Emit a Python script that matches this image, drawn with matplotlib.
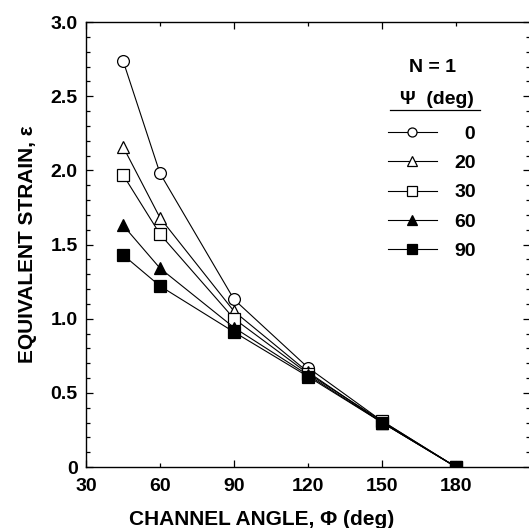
import numpy as np
import matplotlib
matplotlib.use('Agg')
import matplotlib.pyplot as plt
from matplotlib.lines import Line2D
from matplotlib.ticker import MultipleLocator

# channel angle (deg) and equivalent strain for each outer-corner angle psi
phi = [45, 60, 90, 120, 150, 180]
psi_labels = ['0', '20', '30', '60', '90']
strain_psi0 = [2.74, 1.98, 1.13, 0.67, 0.31, 0.0]
strain_psi20 = [2.16, 1.68, 1.05, 0.64, 0.30, 0.0]
strain_psi30 = [1.97, 1.57, 1.00, 0.63, 0.31, 0.0]
strain_psi60 = [1.63, 1.34, 0.94, 0.62, 0.30, 0.0]
strain_psi90 = [1.43, 1.22, 0.91, 0.61, 0.30, 0.0]

series = [strain_psi0, strain_psi20, strain_psi30, strain_psi60, strain_psi90]
markers = ['o', '^', 's', '^', 's']
fills = ['white', 'white', 'white', 'black', 'black']

plt.rcParams['font.family'] = ['Liberation Sans', 'DejaVu Sans']
plt.rcParams['font.weight'] = 'bold'
FS = 14

fig = plt.figure(figsize=(5.29, 5.28), dpi=100)
ax = fig.add_axes([86 / 529, 1 - 467 / 528, 444 / 529, 445 / 528])

handles = []
for vals, m, fc in zip(series, markers, fills):
    ax.plot(phi, vals, color='black', lw=0.8, marker=m, ms=8.5,
            mfc=fc, mec='black', mew=0.9, zorder=3)
    handles.append(Line2D([], [], color='black', lw=0.8, marker=m, ms=6.5,
                          mfc=fc, mec='black', mew=0.9))

ax.set_xlim(30, 210)
ax.set_ylim(0, 3.0)
ax.set_xticks([30, 90, 150])
ax.set_xticks([60, 120, 180], minor=True)
ax.set_xticklabels(['30', '90', '150'])
ax.set_xticklabels(['60', '120', '180'], minor=True)
ax.set_yticks([0, 0.5, 1.0, 1.5, 2.0, 2.5, 3.0])
ax.set_yticklabels(['0', '0.5', '1.0', '1.5', '2.0', '2.5', '3.0'])
ax.yaxis.set_minor_locator(MultipleLocator(0.1))
ax.tick_params(which='both', direction='in', top=True, right=True,
               labelsize=FS, width=0.9)
ax.tick_params(which='major', length=5)
ax.tick_params(which='minor', length=3)
ax.tick_params(axis='x', which='both', pad=8)
ax.tick_params(axis='y', which='both', pad=6)
for lab in ax.get_xticklabels(minor=True) + ax.get_xticklabels() + ax.get_yticklabels():
    lab.set_fontweight('bold')
for sp in ax.spines.values():
    sp.set_linewidth(1.0)

ax.set_xlabel('CHANNEL ANGLE, \u03a6 (deg)', fontsize=15, fontweight='bold', labelpad=6)
ax.xaxis.set_label_coords(0.395, -0.097)
ax.set_ylabel('EQUIVALENT STRAIN, \u03b5', fontsize=15, fontweight='bold', labelpad=10)

labels = ['\u2007' + l if len(l) == 1 else l for l in psi_labels]
leg = ax.legend(handles, labels, loc='upper left', bbox_to_anchor=(0.680, 0.768),
                frameon=False, fontsize=FS, handlelength=2.5, handletextpad=0.9,
                labelspacing=0.6, borderpad=0, borderaxespad=0)
for t in leg.get_texts():
    t.set_fontweight('bold')

ax.text(0.781, 0.898, 'N = 1', transform=ax.transAxes, ha='center', va='center',
        fontsize=FS, fontweight='bold')
ax.text(0.790, 0.825, '\u03a8  (deg)', transform=ax.transAxes, ha='center', va='center',
        fontsize=FS, fontweight='bold')
ax.plot([0.685, 0.887], [0.802, 0.802], transform=ax.transAxes, color='black',
        lw=0.9, clip_on=False)

fig.savefig('out.png', dpi=100)
